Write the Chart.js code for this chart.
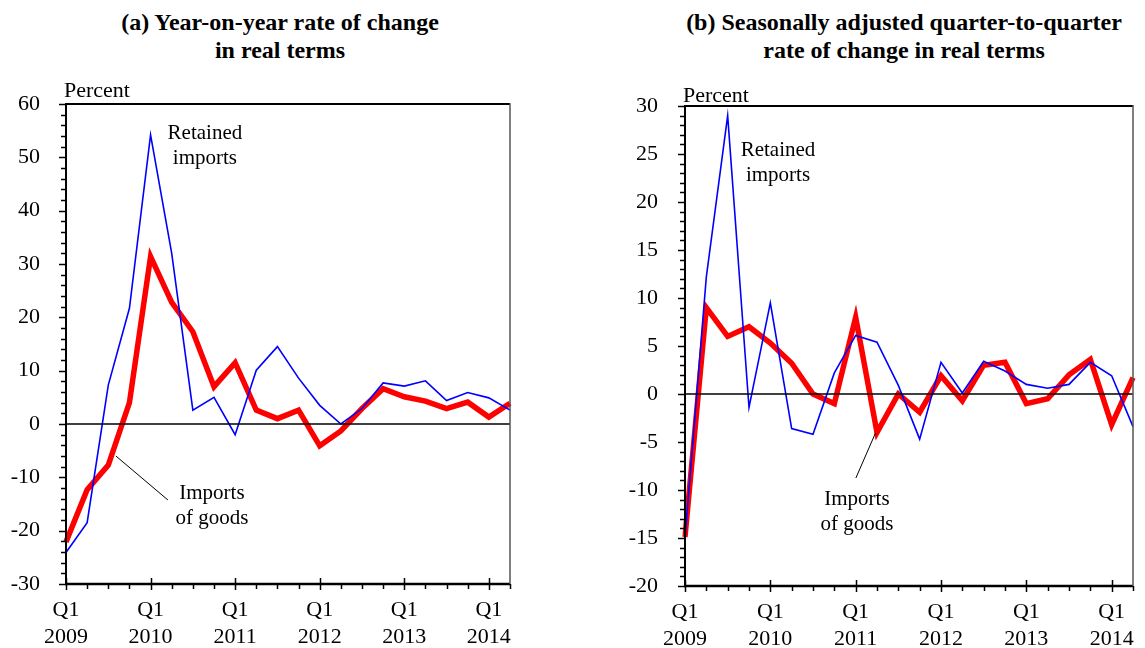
<!DOCTYPE html>
<html>
<head>
<meta charset="utf-8">
<script src="https://cdn.jsdelivr.net/npm/chart.js@4/dist/chart.umd.min.js"></script>
<style>
  body { margin: 0; background: #fff; width: 1145px; height: 648px; position: relative; overflow: hidden; }
  .title { position: absolute; top: 8px; width: 600px; text-align: center;
           font-family: 'Liberation Serif', 'Times New Roman', serif; font-weight: bold;
           font-size: 24px; line-height: 28px; color: #000; }
  canvas { position: absolute; top: 0; }
</style>
</head>
<body>
<div class="title" style="left:-20px">(a) Year-on-year rate of change<br>in real terms</div>
<div class="title" style="left:604px">(b) Seasonally adjusted quarter-to-quarter<br>rate of change in real terms</div>
<canvas id="chartA" width="560" height="648" style="left:0"></canvas>
<canvas id="chartB" width="565" height="648" style="left:580px"></canvas>
<script>
// quarters from 2009 Q1 to 2014 Q2
const quarterLabels = [
    'Q1 2009', 'Q2 2009', 'Q3 2009', 'Q4 2009',
    'Q1 2010', 'Q2 2010', 'Q3 2010', 'Q4 2010',
    'Q1 2011', 'Q2 2011', 'Q3 2011', 'Q4 2011',
    'Q1 2012', 'Q2 2012', 'Q3 2012', 'Q4 2012',
    'Q1 2013', 'Q2 2013', 'Q3 2013', 'Q4 2013',
    'Q1 2014', 'Q2 2014'
];

// (a) year-on-year, percent
const yoyRetained = [-24.1, -18.5, 7.3, 21.7, 54.2, 32.0, 2.6, 5.0, -2.0, 10.1, 14.5, 8.6,
                     3.5, 0.0, 2.9, 7.7, 7.1, 8.1, 4.4, 5.9, 4.9, 2.6];
const yoyImports = [-22.1, -12.3, -7.7, 4.0, 31.4, 22.8, 17.3, 7.0, 11.5, 2.6, 1.0, 2.6,
                    -4.1, -1.3, 2.9, 6.6, 5.1, 4.3, 2.9, 4.1, 1.3, 3.9];

// (b) seasonally adjusted quarter-to-quarter, percent
const qoqRetained = [-15.0, 12.2, 29.0, -1.4, 9.5, -3.6, -4.2, 2.2, 6.1, 5.4, 0.9, -4.7,
                     3.3, 0.1, 3.4, 2.4, 1.0, 0.6, 1.0, 3.3, 1.9, -3.4];
const qoqImports = [-14.9, 9.0, 6.0, 7.0, 5.3, 3.2, 0.0, -1.0, 8.0, -4.0, 0.0, -1.9,
                    1.9, -0.7, 3.0, 3.3, -1.0, -0.5, 2.0, 3.6, -3.2, 1.7];

const yoyTicks = { min: -30, max: 60, step: 10, minor: 2 };
const qoqTicks = { min: -20, max: 30, step: 5, minor: 1 };

const serif = "'Liberation Serif', 'Times New Roman', serif";

// draws the frame, tick marks, zero line and text labels
const decorPlugin = {
    id: 'decor',
    afterDatasetsDraw(chart, args, opts) {
        const ctx = chart.ctx;
        const area = chart.chartArea;
        const x = chart.scales.x;
        const y = chart.scales.y;
        ctx.save();

        // zero line
        ctx.strokeStyle = '#000';
        ctx.lineWidth = 1.5;
        ctx.beginPath();
        ctx.moveTo(area.left, y.getPixelForValue(0));
        ctx.lineTo(area.right, y.getPixelForValue(0));
        ctx.stroke();

        // frame
        ctx.lineWidth = 2;
        ctx.beginPath();
        ctx.moveTo(area.left, area.top);
        ctx.lineTo(area.right, area.top);
        ctx.moveTo(area.left, area.top - 1);
        ctx.lineTo(area.left, area.bottom);
        ctx.stroke();
        ctx.lineWidth = 2.5;
        ctx.beginPath();
        ctx.moveTo(area.left - 1, area.bottom);
        ctx.lineTo(area.right, area.bottom);
        ctx.stroke();
        ctx.strokeStyle = '#555';
        ctx.lineWidth = 1.5;
        ctx.beginPath();
        ctx.moveTo(area.right, area.top - 1);
        ctx.lineTo(area.right, area.bottom);
        ctx.stroke();

        // y ticks, outward
        ctx.strokeStyle = '#000';
        ctx.lineWidth = 1.5;
        const t = opts.ticks;
        for (let v = t.min; v <= t.max + 1e-9; v += t.minor) {
            const py = Math.round(y.getPixelForValue(v)) + 0.5;
            const len = (Math.abs(v % t.step) < 1e-9) ? 7 : 5;
            ctx.beginPath();
            ctx.moveTo(area.left - len, py);
            ctx.lineTo(area.left, py);
            ctx.stroke();
        }

        // x ticks: every quarter down, Q1 both ways
        quarterLabels.forEach((q, i) => {
            const px = Math.round(x.getPixelForValue(i)) + 0.5;
            const major = q.startsWith('Q1');
            ctx.beginPath();
            ctx.moveTo(px, area.bottom + (major ? 6 : 5));
            ctx.lineTo(px, area.bottom - (major ? 6 : 0));
            ctx.stroke();
        });

        // unit label
        ctx.fillStyle = '#000';
        ctx.font = '22px ' + serif;
        ctx.textBaseline = 'middle';
        ctx.textAlign = 'left';
        ctx.fillText('Percent', area.left - 2, area.top - opts.unitGap);

        // series labels
        ctx.font = '21px ' + serif;
        ctx.textAlign = 'center';
        opts.notes.forEach(n => {
            const px = x.getPixelForValue(n.at[0]);
            const py = y.getPixelForValue(n.at[1]);
            n.text.forEach((line, k) => ctx.fillText(line, px, py + k * 25));
        });

        // leader line
        const l = opts.leader;
        ctx.lineWidth = 1;
        ctx.beginPath();
        ctx.moveTo(x.getPixelForValue(l[0][0]), y.getPixelForValue(l[0][1]));
        ctx.lineTo(x.getPixelForValue(l[1][0]), y.getPixelForValue(l[1][1]));
        ctx.stroke();

        ctx.restore();
    }
};

function makeChart(id, retained, imports, ticks, fit, notes, leader, unitGap) {
    const ctx = document.getElementById(id).getContext('2d');
    return new Chart(ctx, {
        type: 'line',
        data: {
            labels: quarterLabels,
            datasets: [{
                label: 'Retained imports',
                data: retained,
                borderColor: '#0000ff',
                borderWidth: 1.6,
                pointRadius: 0,
                tension: 0
            }, {
                label: 'Imports of goods',
                data: imports,
                borderColor: '#ff0000',
                borderWidth: 5.5,
                pointRadius: 0,
                tension: 0
            }]
        },
        options: {
            responsive: false,
            animation: false,
            devicePixelRatio: 1,
            layout: { padding: { left: 0, right: fit.right, top: fit.top, bottom: 0 } },
            plugins: {
                legend: { display: false },
                tooltip: { enabled: false },
                decor: { ticks: ticks, notes: notes, leader: leader, unitGap: unitGap }
            },
            scales: {
                x: {
                    type: 'category',
                    offset: false,
                    border: { display: false },
                    grid: { display: false, drawTicks: false },
                    afterFit: s => { s.height = fit.xHeight; },
                    ticks: {
                        autoSkip: false,
                        maxRotation: 0,
                        padding: 12,
                        color: '#000',
                        font: { family: serif, size: 22, lineHeight: 1.25 },
                        callback: (v, i) => {
                            const parts = quarterLabels[i].split(' ');
                            return parts[0] === 'Q1' ? parts : '';
                        }
                    }
                },
                y: {
                    min: ticks.min,
                    max: ticks.max,
                    border: { display: false },
                    grid: { display: false, drawTicks: false },
                    afterFit: s => { s.width = fit.yWidth; },
                    ticks: {
                        stepSize: ticks.step,
                        padding: fit.yPad,
                        color: '#000',
                        font: { family: serif, size: 22 }
                    }
                }
            }
        },
        plugins: [decorPlugin]
    });
}

makeChart('chartA', yoyRetained, yoyImports, yoyTicks,
    { top: 104, right: 50, xHeight: 64, yWidth: 66, yPad: 26 },
    [{ text: ['Retained', 'imports'], at: [6.57, 54.4] },
     { text: ['Imports', 'of goods'], at: [6.9, -13.1] }],
    [[2.36, -6.0], [4.82, -14.25]], 13);

makeChart('chartB', qoqRetained, qoqImports, qoqTicks,
    { top: 106, right: 6, xHeight: 62, yWidth: 105, yPad: 27 },
    [{ text: ['Retained', 'imports'], at: [4.36, 25.4] },
     { text: ['Imports', 'of goods'], at: [8.06, -11.0] }],
    [[8.93, -4.06], [8.01, -8.75]], 10);
</script>
</body>
</html>
